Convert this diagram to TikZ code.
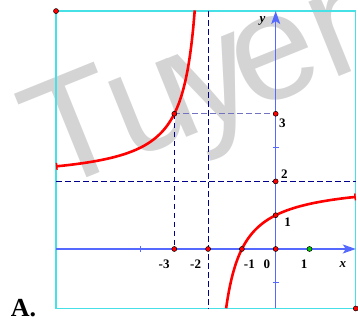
\documentclass[tikz,border=0pt]{standalone}
\usepackage{fontspec}
\setmainfont{Liberation Serif}
\newfontfamily\wmfont{Liberation Sans}
\usetikzlibrary{arrows.meta}
\definecolor{axisblue}{RGB}{85,105,255}
\definecolor{boxcyan}{RGB}{70,225,230}
\definecolor{dashnavy}{RGB}{0,0,140}
\definecolor{wmgray}{RGB}{212,212,212}
\begin{document}
\begin{tikzpicture}[x=33.8pt,y=33.8pt]

\newcommand{\xl}{-6.5}
\newcommand{\xr}{2.37}
\newcommand{\yb}{-1.76}
\newcommand{\yt}{7.04}
\useasboundingbox (-8.157,-2.101) rectangle (2.435,7.367);

\node[wmgray,rotate=22,anchor=base west,inner sep=0pt,
  font=\wmfont\fontsize{152}{152}\selectfont] (wm) at (-6.68,1.66)
  {T\kern-7pt u\kern-15pt y\kern-15pt en};

\coordinate (tl) at (\xl,\yt);
\coordinate (br) at (\xr,\yb);
\draw[boxcyan,line width=1.2pt] (tl) rectangle (br);

  \coordinate (a34) at (-3,4);
  \foreach \x in {-3,-2,-1,0,1}{
    \coordinate (a\x) at (\x,0);
  }
  \foreach \y in {1,2,4}{
    \coordinate (b\y) at (0,\y);
  }
  \coordinate (ht) at (-2,\yt);
  \coordinate (hb) at (-2,\yb);
  \coordinate (vl) at (\xl,2);
  \coordinate (vr) at (\xr,2);
  \coordinate (xs) at (\xl,0);
  \coordinate (xe) at (\xr,0);
  \coordinate (ys) at (0,\yb);
  \coordinate (ye) at (0,\yt);

    \path[dashnavy,dash pattern=on 5.5pt off 3.5pt,line width=0.9pt]
      (ht) edge (hb)
      (vl) edge (vr)
      (a34) edge (a-3)
      (a34) edge[dashnavy!55] (b4);

    \path[axisblue,line width=1.3pt,-{Stealth[length=13pt,width=9pt,inset=3pt]}]
      (xs) edge (xe)
      (ys) edge (ye);
    \path[axisblue,line width=1pt]
      (-4,0.08) edge (-4,-0.08)
      (-0.09,3) edge (0.09,3)
      (-0.09,-1) edge (0.09,-1);

    \draw[red,line width=2.6pt,domain=\xl:-2.395,samples=80,smooth,{Bar[width=7pt,line width=1.5pt]}-]
      plot (\x,{(2*\x+2)/(\x+2)});
    \draw[red,line width=2.6pt,domain=-1.467:\xr,samples=80,smooth,-{Bar[width=7pt,line width=1.5pt]}]
      plot (\x,{(2*\x+2)/(\x+2)});

  \begin{scope}
\tikzstyle{every node}= [circle,fill=red,draw=black,line width=0.5pt,minimum size=5pt,inner sep=0pt];
    \node(c1) at (tl) {};
    \node(c2) at (br) {};
    \node(p34) at (a34) {};
    \foreach \x in {-3,-2,-1,0}{
      \node(p\x) at (a\x) {};
    }
    \foreach \y in {1,2,4}{
      \node(q\y) at (b\y) {};
    }
    \node(p1)[fill=green!80!black] at (a1) {};
  \end{scope}

  \begin{scope}[every node/.style={font=\bfseries\fontsize{13}{13}\selectfont,inner sep=0pt}]
    \node(lm3) at (-3.30,-0.44) {-3};
    \node(lm2) at (-2.37,-0.44) {-2};
    \node(lm1) at (-0.78,-0.44) {-1};
    \node(l0) at (-0.26,-0.44) {0};
    \node(l1) at (0.84,-0.44) {1};
    \node(lx) at (1.99,-0.47) {\itshape x};
    \node(ly) at (-0.39,6.75) {\itshape y};
    \node(ly1) at (0.35,0.78) {1};
    \node(ly2) at (0.26,2.22) {2};
    \node(ly3) at (0.20,3.73) {3};
  \end{scope}

  \node[font=\bfseries\fontsize{26}{26}\selectfont,inner sep=0pt] (lbl) at (-7.46,-1.76) {A.};

\end{tikzpicture}
\end{document}
